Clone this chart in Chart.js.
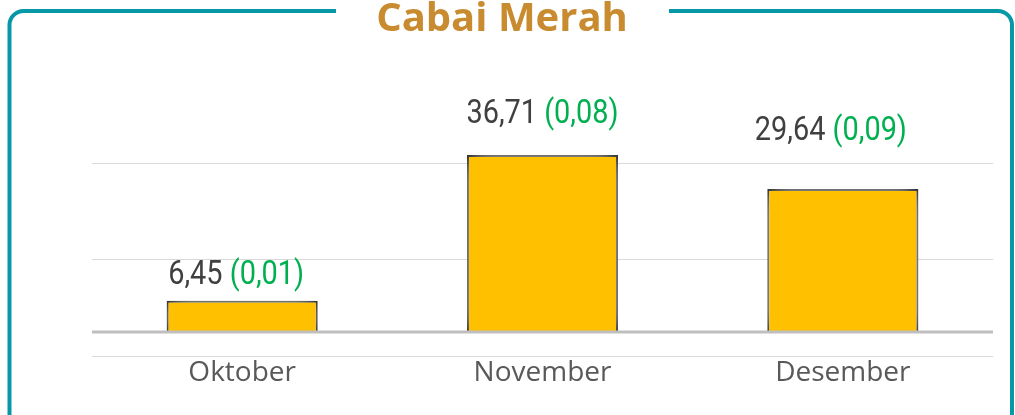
<!DOCTYPE html>
<html><head><meta charset="utf-8">
<script src="https://cdn.jsdelivr.net/npm/chart.js@4.4.1/dist/chart.umd.min.js"></script>
<style>html,body{margin:0;padding:0;background:#fff;overflow:hidden}#wrap{width:1015px;height:415px;position:relative}</style>
</head><body><div id="wrap"><canvas id="c" width="1015" height="415"></canvas></div>
<script>
const chartTitle = 'Cabai Merah';
const categories = ['Oktober', 'November', 'Desember'];
const values = [6.45, 36.71, 29.64];
const changes = [0.01, 0.08, 0.09];
const yTicks = [-5, 15, 35];

const fmt = v => v.toFixed(2).replace('.', ',');

const framePlugin = {
  id: 'frame',
  beforeDraw(chart, args, opts) {
    const ctx = chart.ctx;
    ctx.save();
    ctx.strokeStyle = '#0798A8';
    ctx.lineWidth = 4;
    const L = 9.5, R = 1012, T = 11, r = 14, B = 440;
    ctx.beginPath(); ctx.moveTo(336, T); ctx.lineTo(L + r, T); ctx.arcTo(L, T, L, T + r, r); ctx.lineTo(L, B); ctx.stroke();
    ctx.beginPath(); ctx.moveTo(669, T); ctx.lineTo(R - r, T); ctx.arcTo(R, T, R, T + r, r); ctx.lineTo(R, B); ctx.stroke();
    ctx.font = 'bold 40px "Open Sans"';
    ctx.fillStyle = '#C98B2F';
    ctx.textAlign = 'center';
    ctx.textBaseline = 'alphabetic';
    ctx.fillText(chartTitle, 502, 31);
    ctx.restore();
  },
  beforeDatasetsDraw(chart) {
    const ctx = chart.ctx;
    ctx.save();
    ctx.shadowColor = 'rgba(246,246,246,1)';
    ctx.shadowBlur = 22;
  },
  afterDatasetsDraw(chart, args, opts) {
    const ctx = chart.ctx;
    ctx.restore();
    const a = chart.chartArea;
    const y0 = chart.scales.y.getPixelForValue(0);
    ctx.save();
    ctx.strokeStyle = '#BFBFBF';
    ctx.lineWidth = 3;
    ctx.beginPath(); ctx.moveTo(a.left, y0); ctx.lineTo(a.right, y0); ctx.stroke();
    ctx.restore();
    const meta = chart.getDatasetMeta(0);
    meta.data.forEach((bar, i) => {
      const t1 = fmt(values[i]);
      const t2 = ' (' + fmt(changes[i]) + ')';
      ctx.save();
      ctx.font = '34px Roboto';
      const sx = 0.85;
      const w1 = ctx.measureText(t1).width, w2 = ctx.measureText(t2).width;
      const total = (w1 + w2) * sx;
      const cx = bar.x + opts.dx[i];
      const y = bar.y - opts.offset[i];
      ctx.translate(cx - total / 2, y);
      ctx.scale(sx, 1);
      ctx.textAlign = 'left';
      ctx.textBaseline = 'alphabetic';
      ctx.fillStyle = '#404040';
      ctx.fillText(t1, 0, 0);
      ctx.fillStyle = '#00B050';
      ctx.fillText(t2, w1, 0);
      ctx.restore();
    });
  }
};

new Chart(document.getElementById('c'), {
  type: 'bar',
  data: {
    labels: categories,
    datasets: [{
      data: values,
      backgroundColor: '#FFC000',
      borderColor: '#000000',
      borderWidth: 2,
      borderSkipped: 'bottom',
      barPercentage: 0.503,
      categoryPercentage: 1
    }]
  },
  options: {
    responsive: false,
    animation: false,
    layout: { padding: { left: 92, right: 22, top: 115, bottom: 0 } },
    plugins: {
      legend: { display: false },
      tooltip: { enabled: false },
      frame: { dx: [-6, 0, -12], offset: [17, 32, 49] }
    },
    scales: {
      x: {
        grid: { display: false, drawTicks: false },
        border: { display: false },
        ticks: { color: '#595959', font: { family: '"Open Sans"', size: 28 }, padding: 0 },
        afterFit(s) { s.height = 59; }
      },
      y: {
        min: -5, max: 45,
        afterBuildTicks(s) { s.ticks = yTicks.map(v => ({ value: v })); },
        grid: { color: '#D9D9D9', lineWidth: 1, drawTicks: false },
        border: { display: false },
        ticks: { display: false }
      }
    }
  },
  plugins: [framePlugin]
});
</script>
</body></html>
